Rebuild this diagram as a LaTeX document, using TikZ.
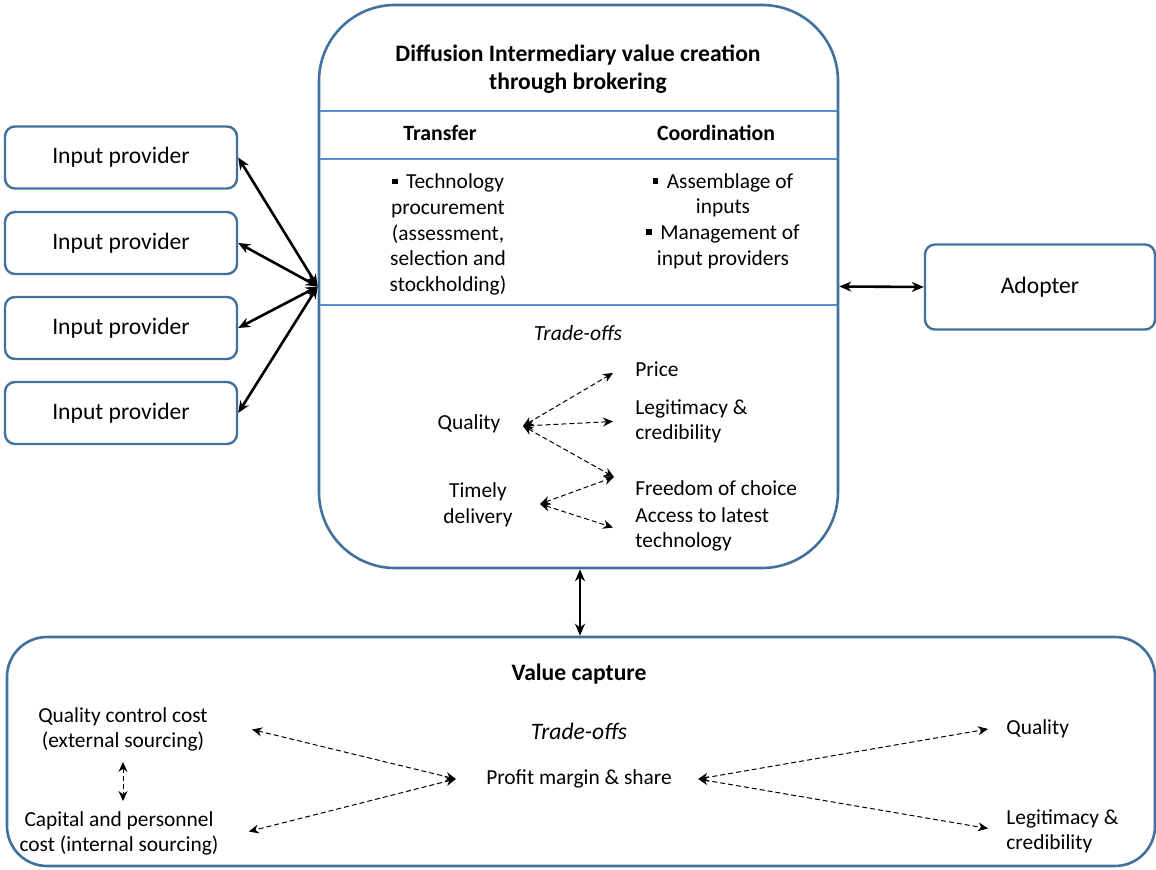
\documentclass[tikz,border=0pt]{standalone}
\usepackage{fontspec}
\setmainfont{Carlito}
\usetikzlibrary{arrows.meta,positioning}
\definecolor{boxblue}{RGB}{65,113,156}
\definecolor{lineblue}{RGB}{91,140,210}
\newcommand{\sqbul}{\rule[0.22em]{0.26em}{0.26em}\ \,}

\begin{document}
\begin{tikzpicture}[
    x=0.5pt, y=-0.5pt,
    font=\fontsize{10.7}{12.8}\selectfont,
    provider/.style={
        draw=boxblue,
        line width=1.2pt,
        rounded corners=5pt,
        minimum width=116pt,
        minimum height=31pt,
        font=\fontsize{11.8}{13}\selectfont
    },
    bigbox/.style={draw=boxblue, line width=1.3pt},
    divider/.style={draw=lineblue, line width=0.8pt},
    txt/.style={align=center, inner sep=1pt},
    heading/.style={font=\fontsize{11.8}{14}\selectfont\bfseries, align=center},
    subheading/.style={font=\fontsize{10.9}{13}\selectfont\bfseries},
    linkarrow/.style={{Stealth[length=6pt,width=5pt]}-{Stealth[length=6pt,width=5pt]}, line width=1.3pt},
    tradearrow/.style={{Stealth[length=5pt,width=4.5pt]}-{Stealth[length=5pt,width=4.5pt]}, dash pattern=on 2.5pt off 1.5pt, line width=0.5pt}
]
\useasboundingbox (0,0) rectangle (1156,870);

% Intermediary box
\node[bigbox, rounded corners=38pt, minimum width=259.5pt, minimum height=281.5pt] (broker) at (578.5,286.5) {};
\node[heading] (title) at (578,69) {Diffusion Intermediary value creation\\through brokering};
\draw[divider] (320,111) -- (837,111);
\draw[divider] (320,159) -- (837,159);
\draw[divider] (320,305) -- (837,305);

% Brokering functions
\node[subheading] (transfer) at (440,133) {Transfer};
\node[subheading] (coord) at (716,133) {Coordination};
\node[txt] (transferitems) at (448,234.5) {\sqbul Technology\\procurement\\(assessment,\\selection and\\stockholding)};
\node[txt] (coorditems) at (723,221) {\sqbul Assemblage of\\inputs\\\sqbul Management of\\input providers};

% Trade-offs in value creation
\node[txt, font=\fontsize{10.8}{12.8}\selectfont\itshape] (tradeA) at (578,333) {Trade-offs};
\node[txt] (quality) at (469,424) {Quality};
\node[txt] (timely) at (478,504.5) {Timely\\delivery};
\node[txt, anchor=west, align=left] (price) at (633,369) {Price};
\node[txt, anchor=west, align=left] (legit) at (633,421.5) {Legitimacy \&\\credibility};
\node[txt, anchor=west, align=left] (freedom) at (633,488) {Freedom of choice};
\node[txt, anchor=west, align=left] (access) at (633,529.5) {Access to latest\\technology};
\coordinate (qhub) at (523,426);
\coordinate (thub) at (540,504);
\coordinate (choice) at (614,477);

\draw[tradearrow] (qhub) -- ([xshift=-10pt,yshift=-2pt]price.west);
\draw[tradearrow] (qhub) -- ([xshift=-10pt]legit.west);
\draw[tradearrow] (qhub) -- (choice);
\draw[tradearrow] (thub) -- (choice);
\draw[tradearrow] (thub) -- ([xshift=-10pt,yshift=1pt]access.west);

% Input providers
\node[provider] (in1) at (121,157.5) {Input provider};
\node[provider] (in2) at (121,243) {Input provider};
\node[provider] (in3) at (121,328) {Input provider};
\node[provider] (in4) at (121,413) {Input provider};

\foreach \i in {1,...,4}
    \draw[linkarrow] (broker.west) -- (in\i.east);

% Adopter
\node[provider, minimum width=115pt, minimum height=42.5pt] (adopter) at (1040,287) {Adopter};
\draw[linkarrow] (broker.east) -- (adopter.west);

% Value capture box
\node[bigbox, rounded corners=20pt, minimum width=574pt, minimum height=114.5pt] (capture) at (581,751.5) {};
\draw[linkarrow] (broker.south -| 580,0) -- (capture.north -| 580,0);
\node[heading] (vctitle) at (579,674) {Value capture};
\node[txt, font=\fontsize{11.8}{12.8}\selectfont\itshape] (tradeB) at (579,731) {Trade-offs};
\node[txt] (profit) at (579,779) {Profit margin \& share};
\node[txt] (qcc) at (123,729.5) {Quality control cost\\(external sourcing)};
\node[txt] (cpc) at (119,833.5) {Capital and personnel\\cost (internal sourcing)};
\node[txt, anchor=west, align=left] (cquality) at (1004,729) {Quality};
\node[txt, anchor=west, align=left] (clegit) at (1004,831.5) {Legitimacy \&\\credibility};

\draw[tradearrow] ([xshift=-14pt]profit.west) -- ([xshift=21pt]qcc.east);
\draw[tradearrow] ([xshift=-14pt]profit.west) -- ([xshift=14pt,yshift=1pt]cpc.east);
\draw[tradearrow] ([xshift=12pt]profit.east) -- ([xshift=-8pt]cquality.west);
\draw[tradearrow] ([xshift=12pt]profit.east) -- ([xshift=-8pt,yshift=1.5pt]clegit.west);
\draw[tradearrow] ([yshift=-4pt]qcc.south) -- ([yshift=4pt]cpc.north -| qcc.south);

\end{tikzpicture}
\end{document}
